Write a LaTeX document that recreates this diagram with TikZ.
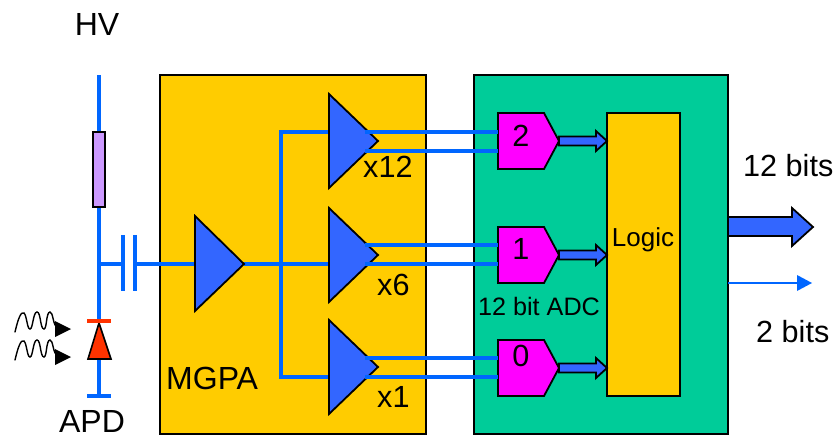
\documentclass[tikz,border=0pt]{standalone}
\usepackage{fontspec}
\setmainfont{Liberation Sans}
\usetikzlibrary{positioning}
\definecolor{wire}{HTML}{0066FF}
\definecolor{ampblue}{HTML}{3366FF}
\definecolor{gold}{HTML}{FFCC00}
\definecolor{teal}{HTML}{00CC99}
\definecolor{magent}{HTML}{FF00FF}
\definecolor{diode}{HTML}{FF3300}
\definecolor{lilac}{HTML}{CC99FF}
\tikzset{
  x=1pt,y=-1pt,
  box/.style={draw=black,line width=2pt,minimum width=#1,inner sep=0pt,outer sep=0pt,anchor=north west},
  wireln/.style={draw=wire,line width=3.2pt},
  amp/.style={draw=black,line width=1.8pt,fill=ampblue,line join=miter},
  adc/.style={draw=black,line width=1.8pt,fill=magent,line join=miter},
  blk/.style={draw=black,line width=1.8pt,fill=ampblue,line join=miter},
  lbl/.style={inner sep=0pt,font=\fontsize{30.6}{33}\selectfont,text=black},
  lblb/.style={inner sep=0pt,font=\fontsize{32}{34}\selectfont,text=black},
  lbls/.style={inner sep=0pt,font=\fontsize{26}{28}\selectfont,text=black},
  lblt/.style={inner sep=0pt,font=\fontsize{25.2}{27}\selectfont,text=black},
  wave/.style={draw=black,line width=1.4pt,line cap=round},
}
\newcommand{\photon}[1]{%
  \draw[wave] (15,#1+12) .. controls (18,#1-1) and (21,#1-9) .. (24,#1-7)
     .. controls (27,#1-4) and (27,#1+9) .. (30,#1+9)
     .. controls (33,#1+9) and (33,#1-8) .. (37,#1-8)
     .. controls (41,#1-8) and (40,#1+9) .. (44,#1+9)
     .. controls (47,#1+9) and (46,#1-8) .. (50,#1-8)
     .. controls (53,#1-8) and (53,#1+4) .. (56,#1+6);
  \fill[black] (55,#1+1) -- (71,#1+9) -- (55,#1+17) -- cycle;
}
\newcommand{\ampshape}[1]{%
  \draw[amp] (329,#1-47) -- (378,#1) -- (329,#1+47) -- cycle;
}
\newcommand{\adcshape}[1]{%
  \draw[adc] (498,#1-28) -- (544,#1-28) -- (559,#1) -- (544,#1+28) -- (498,#1+28) -- cycle;
}
\newcommand{\blockarrow}[1]{%
  \draw[blk] (559,#1-4.5) -- (596,#1-4.5) -- (596,#1-10) -- (607,#1) -- (596,#1+10) -- (596,#1+4.5) -- (559,#1+4.5) -- cycle;
}
\begin{document}
\begin{tikzpicture}
\useasboundingbox (0,0) rectangle (837,438);
% boxes
\node[box=266pt,minimum height=359pt,fill=gold] (mgpa) at (160,75) {};
\node[box=254pt,minimum height=359pt,fill=teal] (adcbox) at (474,75) {};
\node[box=73pt,minimum height=283pt,fill=gold] (logic) at (607,113) {};
% named points
\coordinate (top) at (99,75);
\coordinate (tap) at (99,264);
\coordinate (bar) at (99,321);
\coordinate (gnd) at (99,396);
\coordinate (capL) at (123,264);
\coordinate (capR) at (135,264);
\coordinate (ampin) at (195,264);
\coordinate (ampout) at (244,264);
\coordinate (busA) at (281,132);
\coordinate (busB) at (281,264);
\coordinate (busC) at (281,377);
\coordinate (in12) at (329,132);
\coordinate (in6) at (329,264);
\coordinate (in1) at (329,377);
% HV line
\draw[wireln] (top) -- (bar);
\draw[wireln] (99,359) -- (gnd);
\draw[wireln] (87,396) -- (111,396);
\node[draw=black,line width=2pt,fill=lilac,minimum width=12pt,minimum height=75pt,inner sep=0pt,outer sep=0pt] (res) at (99,169.5) {};
% capacitor
\draw[wireln] (tap) -- (capL);
\draw[wireln] (capR) -- (ampin);
\draw[wireln] (123,235) -- (123,291);
\draw[wireln] (135,235) -- (135,291);
% diode
\draw[draw=black,line width=1.6pt,fill=diode] (99,323) -- (111,359) -- (88,359) -- cycle;
\draw[draw=diode,line width=3.6pt] (87,321) -- (111,321);
% photons
\photon{320}
\photon{348}
% first amp
\draw[wireln] (ampout) -- (in6);
\draw[wireln] (in12) -- (busA) -- (busC) -- (in1);
\draw[amp] (195,216) -- (244,264) -- (195,311) -- cycle;
% gain amps
\ampshape{141}
\ampshape{255}
\ampshape{367}
% ADCs
\adcshape{141}
\adcshape{255}
\adcshape{368}
\blockarrow{141}
\blockarrow{255}
\blockarrow{368}
% outputs
\coordinate (a2t) at (498,132); \coordinate (a2b) at (498,151);
\coordinate (a1t) at (498,245); \coordinate (a1b) at (498,264);
\coordinate (a0t) at (498,358); \coordinate (a0b) at (498,377);
\draw[wireln] (365,132) -- (a2t);
\draw[wireln] (365,151) -- (a2b);
\draw[wireln] (365,245) -- (a1t);
\draw[wireln] (365,264) -- (a1b);
\draw[wireln] (365,358) -- (a0t);
\draw[wireln] (365,377) -- (a0b);
% output arrows
\draw[blk] (728,217) -- (792,217) -- (792,208) -- (813,227) -- (792,246) -- (792,236) -- (728,236) -- cycle;
\coordinate (thinS) at (728,283);
\coordinate (thinE) at (797,283);
\draw[draw=wire,line width=1.8pt] (thinS) -- (thinE);
\fill[wire] (797,275) -- (812,283) -- (797,291) -- cycle;
% labels
\node[lblb] (hv) at (97,24) {HV};
\node[lblb] (apd) at (92,421.5) {APD};
\node[lblb,anchor=west] (mg) at (166,378) {MGPA};
\node[lbl,anchor=west] (x12) at (363,167) {x12};
\node[lbl,anchor=west] (x6) at (377,285) {x6};
\node[lbl,anchor=west] (x1) at (377,397) {x1};
\node[lbl] (n2) at (521,136) {2};
\node[lbl] (n1) at (521,249) {1};
\node[lbl] (n0) at (521,356) {0};
\node[lblt] (adcl) at (539,306) {12 bit ADC};
\node[lbls] (lg) at (643,240) {Logic};
\node[lbl,anchor=west] (b12) at (743,166) {12 bits};
\node[lbl,anchor=west] (b2) at (756,332) {2 bits};
\end{tikzpicture}
\end{document}
